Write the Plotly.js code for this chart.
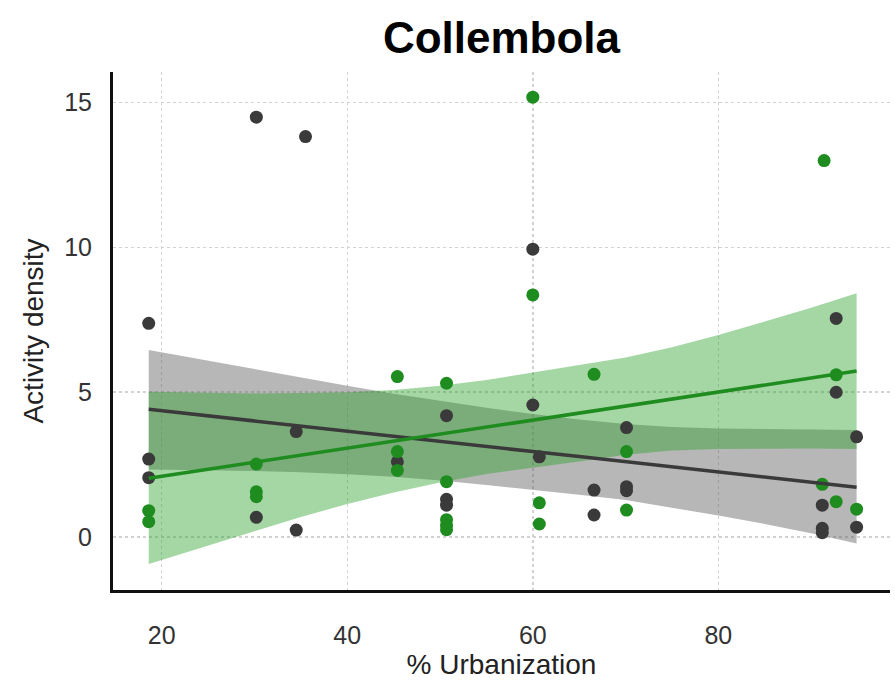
<!DOCTYPE html>
<html>
<head>
<meta charset="utf-8">
<script src="https://cdn.plot.ly/plotly-3.0.1.min.js"></script>
<style>html,body{margin:0;padding:0;background:#fff;}#chart{width:895px;height:689px;}</style>
</head>
<body>
<div id="chart"></div>
<script>
// Dark (gray) series points
const darkX = [30.2, 35.5, 18.6, 18.6, 18.6, 34.5, 30.2, 34.5, 45.4, 50.7, 50.7, 50.7, 60.0, 60.0, 60.7, 66.6, 66.6, 70.1, 70.1, 70.1, 92.7, 92.7, 94.9, 91.2, 94.9, 91.2, 91.2];
const darkY = [14.5, 13.83, 7.38, 2.69, 2.05, 3.64, 0.68, 0.24, 2.6, 4.19, 1.3, 1.1, 9.94, 4.56, 2.77, 1.62, 0.76, 3.78, 1.74, 1.6, 7.55, 5.0, 3.46, 1.1, 0.34, 0.3, 0.15];
// Green series points
const greenX = [18.6, 18.6, 30.2, 30.2, 30.2, 45.4, 45.4, 45.4, 50.7, 50.7, 50.7, 50.7, 50.7, 60.0, 60.0, 60.7, 60.7, 66.6, 70.1, 70.1, 91.4, 92.7, 91.2, 92.7, 94.9];
const greenY = [0.91, 0.53, 2.52, 1.56, 1.39, 5.54, 2.95, 2.3, 5.31, 1.91, 0.6, 0.4, 0.25, 15.19, 8.36, 1.18, 0.45, 5.62, 2.95, 0.93, 13.0, 5.6, 1.82, 1.22, 0.96];

// Fitted lines and confidence bands
const bandX = [18.6, 25, 30, 35, 40, 45, 50, 55, 60, 65, 70, 75, 80, 85, 90, 94.9];
const darkFit = [4.41, 4.18, 4.01, 3.83, 3.66, 3.49, 3.31, 3.13, 2.95, 2.78, 2.60, 2.42, 2.25, 2.07, 1.90, 1.72];
const darkUpper = [6.46, 6.09, 5.79, 5.50, 5.22, 4.95, 4.70, 4.46, 4.25, 4.06, 3.90, 3.80, 3.75, 3.72, 3.71, 3.70];
const darkLower = [2.33, 2.30, 2.28, 2.24, 2.17, 2.08, 1.95, 1.80, 1.64, 1.46, 1.28, 1.00, 0.74, 0.45, 0.13, -0.22];
const greenFit = [2.03, 2.34, 2.58, 2.83, 3.07, 3.31, 3.55, 3.80, 4.04, 4.28, 4.52, 4.77, 5.01, 5.25, 5.49, 5.73];
const greenUpper = [5.02, 4.98, 4.96, 4.97, 5.00, 5.08, 5.22, 5.42, 5.68, 5.95, 6.20, 6.55, 6.98, 7.44, 7.92, 8.42];
const greenLower = [-0.93, -0.30, 0.20, 0.69, 1.14, 1.54, 1.88, 2.18, 2.40, 2.61, 2.84, 2.99, 3.04, 3.06, 3.06, 3.04];

const xTicks = [20, 40, 60, 80];
const yTicks = [0, 5, 10, 15];

const DARK = '#3a3a3a';
const GREEN = '#1f8c1f';

function band(up, lo, fill) {
  return {
    x: bandX.concat(bandX.slice().reverse()),
    y: up.concat(lo.slice().reverse()),
    type: 'scatter', mode: 'lines', fill: 'toself',
    fillcolor: fill, line: {width: 0}, hoverinfo: 'skip', showlegend: false
  };
}

const traces = [
  band(darkUpper, darkLower, 'rgba(90,90,90,0.44)'),
  band(greenUpper, greenLower, 'rgba(40,160,40,0.42)'),
  {x: darkX, y: darkY, type: 'scatter', mode: 'markers', marker: {color: DARK, size: 13}, showlegend: false},
  {x: greenX, y: greenY, type: 'scatter', mode: 'markers', marker: {color: GREEN, size: 13}, showlegend: false},
  {x: bandX, y: darkFit, type: 'scatter', mode: 'lines', line: {color: DARK, width: 3.5}, showlegend: false},
  {x: bandX, y: greenFit, type: 'scatter', mode: 'lines', line: {color: GREEN, width: 3.5}, showlegend: false}
];

const layout = {
  width: 895, height: 689,
  margin: {l: 113, r: 5, t: 72, b: 99},
  paper_bgcolor: '#fff', plot_bgcolor: '#fff',
  font: {family: 'Liberation Sans, Arial, sans-serif', color: '#333'},
  title: {text: '<b>Collembola</b>', x: 0.5, xref: 'paper', xanchor: 'center', y: 0.945, yref: 'container', yanchor: 'middle',
          font: {size: 44, color: '#000', family: 'Liberation Sans, Arial, sans-serif'}},
  xaxis: {
    range: [14.75, 98.5], tickvals: xTicks, ticktext: xTicks.map(String),
    showgrid: true, gridcolor: '#d2d2d2', griddash: 'dot', gridwidth: 1.5,
    zeroline: false, showline: true, linecolor: '#111', linewidth: 3, ticks: '',
    tickfont: {size: 25, color: '#333'}, ticklabelstandoff: 21,
    title: {text: '% Urbanization', font: {size: 28, color: '#222'}, standoff: 2}
  },
  yaxis: {
    range: [-1.83, 16.06], tickvals: yTicks, ticktext: yTicks.map(String),
    showgrid: true, gridcolor: '#d2d2d2', griddash: 'dot', gridwidth: 1.5,
    zeroline: false, showline: true, linecolor: '#111', linewidth: 3, ticks: '',
    tickfont: {size: 25, color: '#333'}, ticklabelstandoff: 13,
    title: {text: 'Activity density', font: {size: 28, color: '#222'}, standoff: 13}
  }
};

Plotly.newPlot('chart', traces, layout, {staticPlot: true, displayModeBar: false});
</script>
</body>
</html>
